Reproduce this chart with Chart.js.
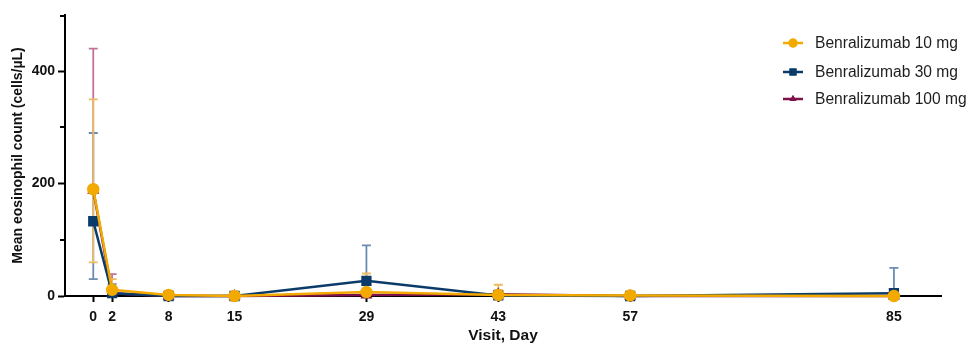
<!DOCTYPE html>
<html>
<head>
<meta charset="utf-8">
<script src="https://cdn.jsdelivr.net/npm/chart.js@4/dist/chart.umd.min.js"></script>
<style>
  html, body { margin: 0; padding: 0; background: #ffffff; }
  canvas { display: block; }
</style>
</head>
<body>
<canvas id="chart" width="969" height="343"></canvas>
<script>
// Study visits (day)
const visitDays = [0, 2, 8, 15, 29, 43, 57, 85];

// Mean eosinophil count (cells/µL) per dose group
const mean10  = [190, 11, 2, 0, 7, 2, 1, 0];
const mean30  = [133, 5, 0, 0, 27, 1, 0, 5];
const mean100 = [188, 5, 0, 0, 2, 3, 0, 0];

// Error bar ends (upper / lower); null = no lower whisker drawn
const upper10  = [350, 30, 9, 0, 40, 20, 5, 0];
const lower10  = [60, null, null, null, null, null, null, null];
const upper30  = [290, 21, 2, 0, 90, 3, 1, 50];
const lower30  = [30, null, null, null, null, null, null, null];
const upper100 = [440, 39, 1, 0, 5, 10, 1, 1];
const lower100 = [null, null, null, null, null, null, null, null];

const seriesLabels = ['Benralizumab 10 mg', 'Benralizumab 30 mg', 'Benralizumab 100 mg'];
const yLabelTicks = [0, 200, 400];

const COLORS = {
  orange: '#f2a900', orangeBar: '#ebbb62',
  navy: '#0b3b69', navyBar: '#6c8cb2',
  maroon: '#7e124a', maroonBar: '#c27399'
};

const FONT = '"Liberation Sans", Arial, sans-serif';

const toPoints = (vals) => visitDays.map((d, i) => ({ x: d, y: vals[i] }));

const datasets = [
  {
    label: seriesLabels[0], data: toPoints(mean10),
    borderColor: COLORS.orange, backgroundColor: COLORS.orange,
    pointStyle: 'circle', pointRadius: 5, borderWidth: 2.5,
    errHi: upper10, errLo: lower10, barColor: COLORS.orangeBar
  },
  {
    label: seriesLabels[1], data: toPoints(mean30),
    borderColor: COLORS.navy, backgroundColor: COLORS.navy,
    pointStyle: 'rect', pointRadius: 5.5, borderWidth: 2.5,
    errHi: upper30, errLo: lower30, barColor: COLORS.navyBar
  },
  {
    label: seriesLabels[2], data: toPoints(mean100),
    borderColor: COLORS.maroon, backgroundColor: COLORS.maroon,
    pointStyle: 'triangle', pointRadius: 4.5, borderWidth: 2.5,
    errHi: upper100, errLo: lower100, barColor: COLORS.maroonBar
  }
];

// Whiskers behind the lines: drawn last-to-first so the 10 mg bars sit on top
const errorBars = {
  id: 'errorBars',
  beforeDatasetsDraw(chart) {
    const { ctx, scales: { x, y } } = chart;
    const cap = 4.5;
    ctx.save();
    ctx.lineWidth = 1.8;
    for (let k = chart.data.datasets.length - 1; k >= 0; k--) {
      const ds = chart.data.datasets[k];
      ctx.strokeStyle = ds.barColor;
      ds.data.forEach((p, i) => {
        const px = x.getPixelForValue(p.x);
        const py = y.getPixelForValue(p.y);
        const hi = ds.errHi[i], lo = ds.errLo[i];
        ctx.beginPath();
        if (hi !== null && hi > p.y) {
          const hy = y.getPixelForValue(hi);
          ctx.moveTo(px, py); ctx.lineTo(px, hy);
          ctx.moveTo(px - cap, hy); ctx.lineTo(px + cap, hy);
        }
        if (lo !== null && lo < p.y) {
          const ly = y.getPixelForValue(lo);
          ctx.moveTo(px, py); ctx.lineTo(px, ly);
          ctx.moveTo(px - cap, ly); ctx.lineTo(px + cap, ly);
        }
        ctx.stroke();
      });
    }
    ctx.restore();
  }
};

// Short minor ticks on the y axis (unlabelled steps)
const minorTicks = {
  id: 'minorTicks',
  afterDraw(chart) {
    const { ctx, scales: { y } } = chart;
    ctx.save();
    ctx.strokeStyle = '#000';
    ctx.lineWidth = 2;
    y.ticks.forEach(t => {
      if (yLabelTicks.includes(t.value)) return;
      const py = Math.round(y.getPixelForValue(t.value)) + (t.value === y.max ? 1 : 0);
      ctx.beginPath();
      ctx.moveTo(y.right, py);
      ctx.lineTo(y.right - 5, py);
      ctx.stroke();
    });
    ctx.restore();
  }
};

// Line-and-marker legend in the upper right
const lineLegend = {
  id: 'lineLegend',
  afterDraw(chart) {
    const { ctx } = chart;
    const x0 = 783, x1 = 803, tx = 815;
    const rows = [43, 72, 99];
    ctx.save();
    chart.data.datasets.forEach((ds, i) => {
      const yy = rows[i];
      ctx.strokeStyle = ds.borderColor;
      ctx.lineWidth = 2.5;
      ctx.beginPath(); ctx.moveTo(x0, yy); ctx.lineTo(x1, yy); ctx.stroke();
      ctx.fillStyle = ds.backgroundColor;
      Chart.helpers.drawPoint(ctx, { pointStyle: ds.pointStyle, radius: ds.pointRadius - 0.5, borderWidth: 0 }, (x0 + x1) / 2, yy);
      ctx.fill();
      ctx.fillStyle = '#1e1e1e';
      ctx.font = '15.6px ' + FONT;
      ctx.textBaseline = 'middle';
      ctx.textAlign = 'left';
      ctx.fillText(ds.label, tx, yy + 1);
    });
    ctx.restore();
  }
};

const tickFont = { family: FONT, size: 14, weight: 'bold' };

new Chart(document.getElementById('chart'), {
  type: 'line',
  data: { datasets },
  options: {
    responsive: false,
    animation: false,
    layout: { padding: { top: 15, right: 28, left: 0, bottom: 0 } },
    elements: { line: { tension: 0 }, point: { borderWidth: 0 } },
    datasets: { line: { clip: false } },
    plugins: { legend: { display: false }, tooltip: { enabled: false } },
    scales: {
      x: {
        type: 'linear', min: -3, max: 90,
        afterBuildTicks(scale) { scale.ticks = visitDays.map(v => ({ value: v })); },
        afterFit(scale) { scale.height = 47; },
        border: { display: true, color: '#000', width: 2 },
        grid: { display: true, drawOnChartArea: false, drawTicks: true, tickLength: 6, tickWidth: 2, tickColor: '#000' },
        ticks: { color: '#111', font: tickFont, padding: 7, maxRotation: 0, autoSkip: false, callback: v => String(v) },
        title: { display: true, text: 'Visit, Day', color: '#111', padding: 0,
          font: { family: FONT, size: 15.5, weight: 'bold', lineHeight: 1 } }
      },
      y: {
        min: 0, max: 500,
        afterFit(scale) { scale.width = 65; },
        border: { display: true, color: '#000', width: 2 },
        grid: { display: true, drawOnChartArea: false, drawTicks: true, tickLength: 7, tickWidth: 2,
          tickColor: c => (c.tick && yLabelTicks.includes(c.tick.value) ? '#000' : 'rgba(0,0,0,0)') },
        ticks: { stepSize: 100, color: '#111', font: tickFont, padding: 3,
          callback: v => (yLabelTicks.includes(v) ? String(v) : '') },
        title: { display: true, text: 'Mean eosinophil count (cells/µL)', color: '#111',
          padding: { top: 10, bottom: 0 },
          font: { family: FONT, size: 14, weight: 'bold', lineHeight: 1.2 } }
      }
    }
  },
  plugins: [errorBars, minorTicks, lineLegend]
});
</script>
</body>
</html>
